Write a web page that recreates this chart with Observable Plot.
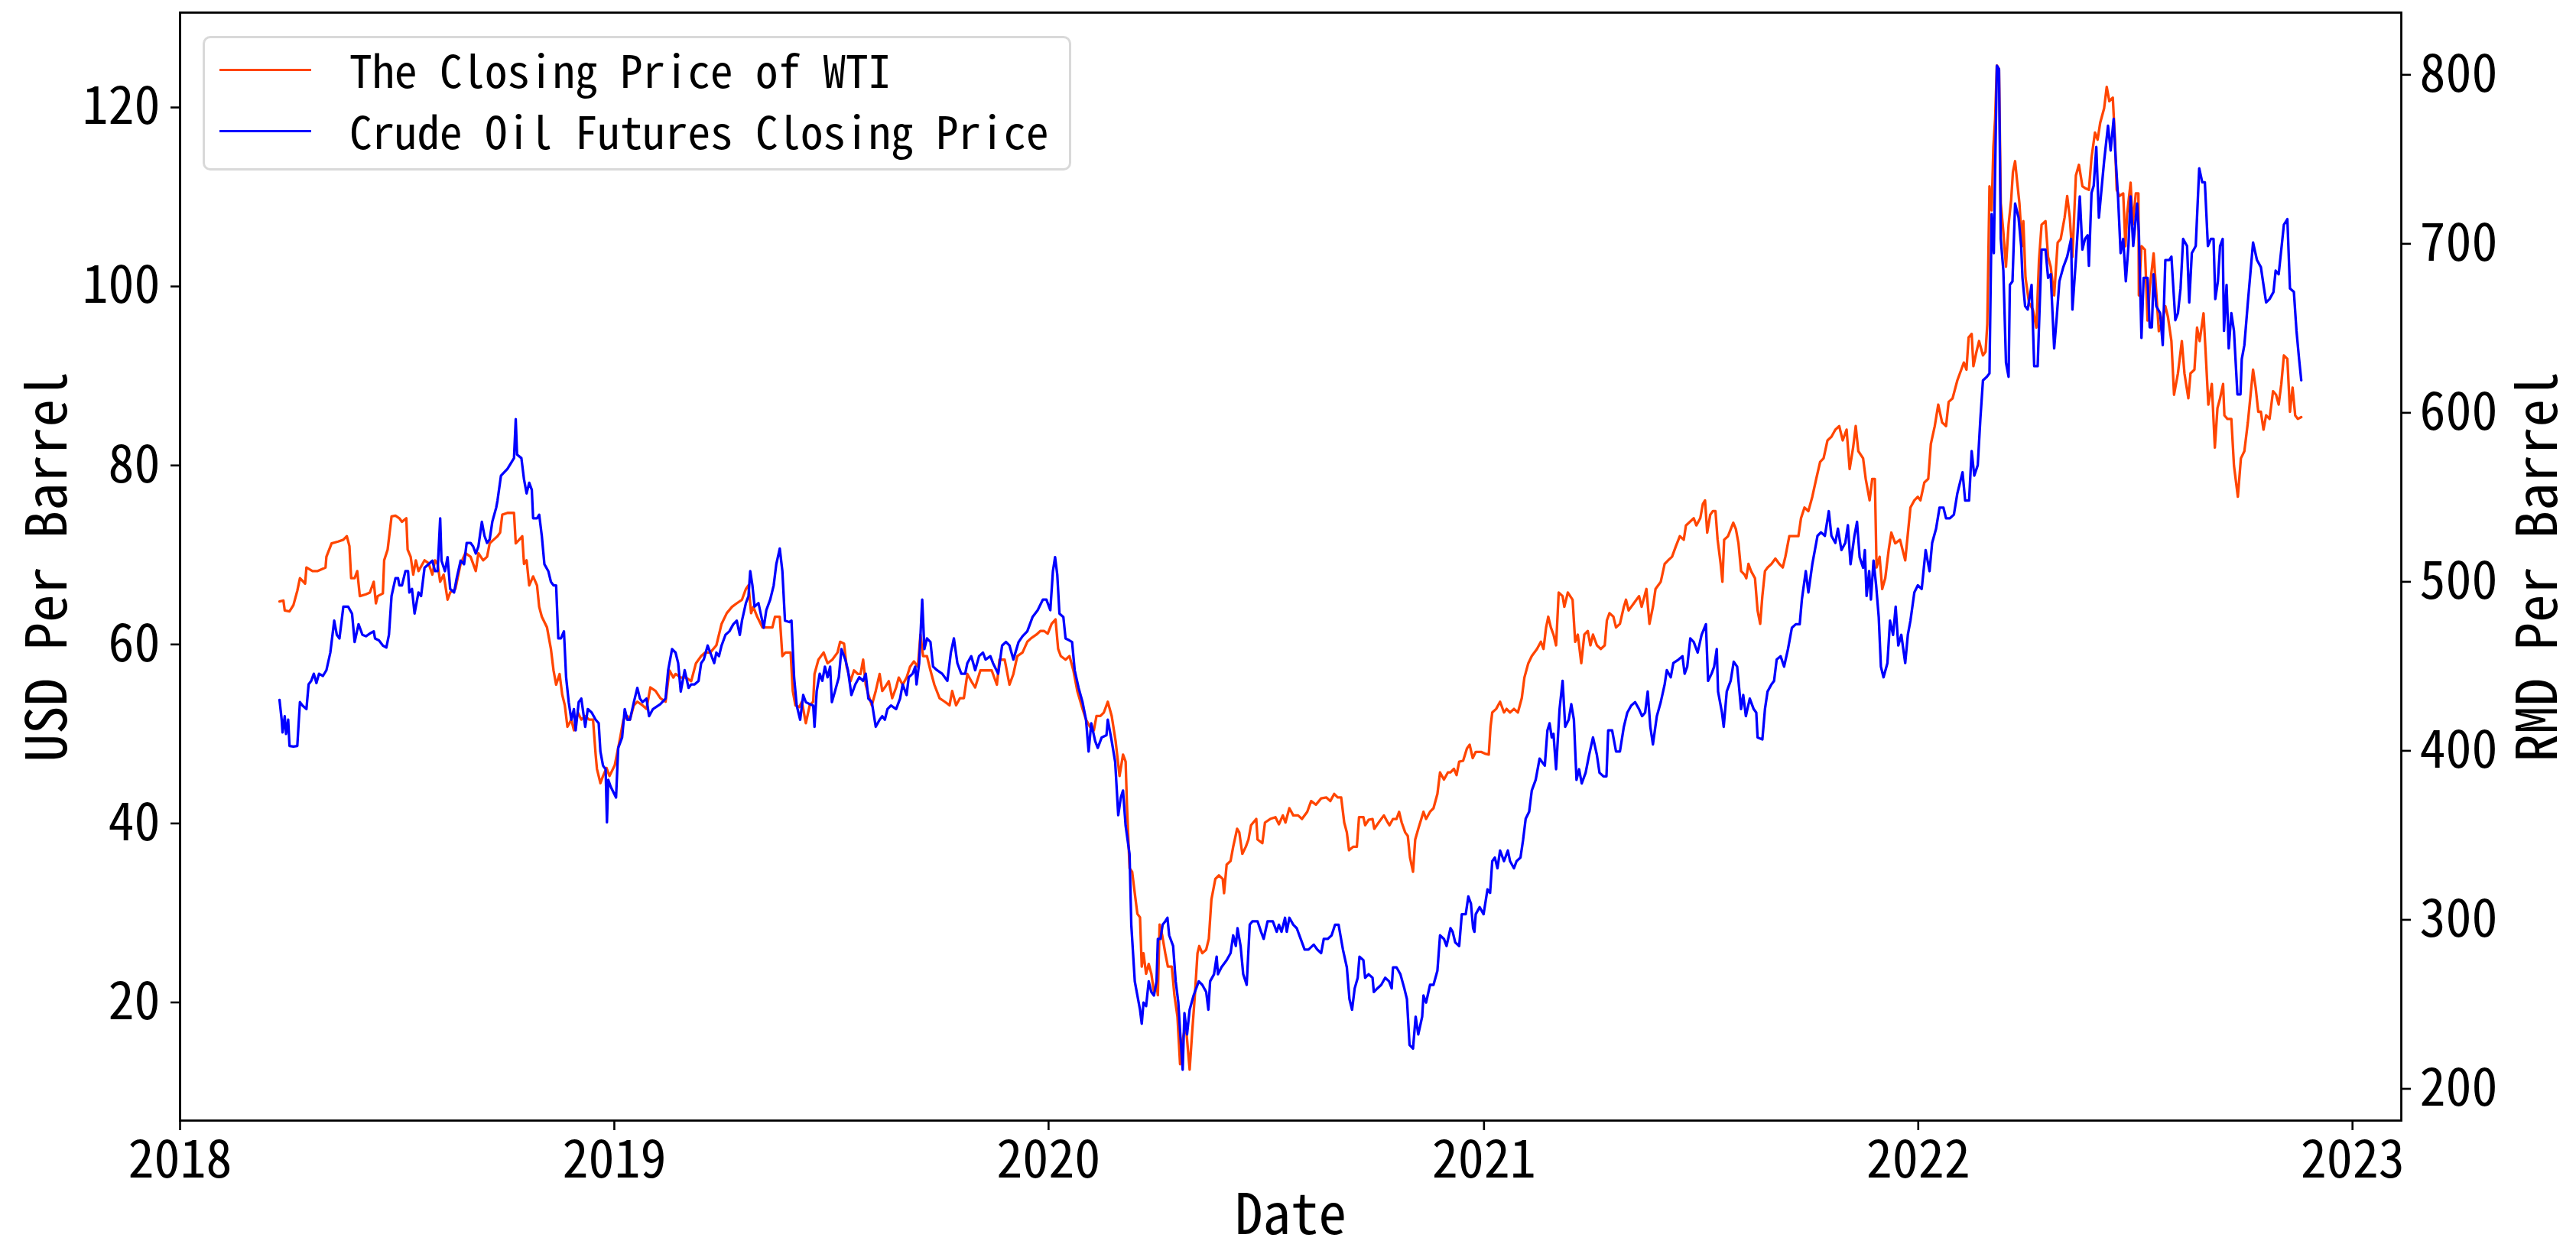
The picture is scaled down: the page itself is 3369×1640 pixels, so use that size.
<!DOCTYPE html>
<html>
<head>
<meta charset="utf-8">
<script src="https://cdn.jsdelivr.net/npm/d3@7"></script>
<script src="https://cdn.jsdelivr.net/npm/@observablehq/plot@0.6"></script>
<style>
  html, body { margin: 0; padding: 0; background: #fff; }
  #wrap { position: relative; width: 3369px; height: 1640px; overflow: hidden; }
  #legend { position: absolute; left: 265px; top: 47px; width: 1136px; height: 176px; box-sizing: border-box;
            border: 3px solid #d9d9d9; border-radius: 10px; background: rgba(255,255,255,0.8); }
  .sw { position: absolute; left: 19px; width: 120px; height: 3px; }
  .lt { position: absolute; left: 189px; font-size: 59px; line-height: 59px; white-space: pre; color: #000; }
  .f { font-family: "Noto Sans Mono CJK SC", "Noto Sans CJK SC", "DejaVu Sans Mono", monospace; }
</style>
</head>
<body>
<div id="wrap" class="f"></div>
<script>
// ---- data (decimal year, value) ----
const wti = [
[2018.229,64.8],[2018.238,64.9],[2018.241,63.8],[2018.252,63.7],[2018.261,64.4],[2018.270,66.0],[2018.276,67.4],[2018.288,66.8],[2018.291,68.6],[2018.305,68.2],[2018.317,68.2],[2018.335,68.6],[2018.337,69.8],[2018.349,71.3],[2018.364,71.5],[2018.376,71.7],[2018.384,72.1],[2018.390,71.0],[2018.394,67.4],[2018.402,67.4],[2018.408,68.2],[2018.414,65.4],[2018.428,65.6],[2018.437,65.8],[2018.446,67.0],[2018.451,64.6],[2018.455,65.4],[2018.467,65.7],[2018.470,69.4],[2018.478,70.6],[2018.487,74.3],[2018.496,74.4],[2018.505,74.1],[2018.511,73.7],[2018.521,74.1],[2018.524,70.6],[2018.531,69.8],[2018.537,67.8],[2018.543,69.4],[2018.549,68.2],[2018.563,69.4],[2018.572,69.1],[2018.581,67.8],[2018.587,69.4],[2018.593,69.0],[2018.599,67.0],[2018.607,67.8],[2018.616,65.0],[2018.622,65.8],[2018.634,66.2],[2018.646,69.0],[2018.657,70.2],[2018.669,69.8],[2018.681,68.2],[2018.687,70.2],[2018.698,69.4],[2018.707,69.8],[2018.713,71.3],[2018.722,71.7],
[2018.731,72.1],[2018.737,72.5],[2018.742,74.5],[2018.754,74.7],[2018.769,74.7],[2018.773,71.3],[2018.781,71.7],[2018.788,72.1],[2018.792,69.0],[2018.798,69.4],[2018.804,66.6],[2018.813,67.6],[2018.822,66.6],[2018.827,64.2],[2018.833,63.1],[2018.845,61.9],[2018.854,59.5],[2018.860,57.1],[2018.866,55.5],[2018.874,56.7],[2018.880,54.4],[2018.886,53.2],[2018.892,50.8],[2018.901,51.6],[2018.907,50.4],[2018.916,52.4],[2018.924,51.6],[2018.933,52.0],[2018.942,51.6],[2018.951,51.6],[2018.957,47.7],[2018.960,46.1],[2018.968,44.5],[2018.974,45.3],[2018.982,46.2],[2018.989,45.3],[2019.001,46.5],[2019.012,49.2],[2019.021,51.6],[2019.030,52.0],[2019.036,51.6],[2019.045,53.2],[2019.053,53.6],[2019.065,53.2],[2019.074,52.8],[2019.083,55.2],[2019.095,54.8],[2019.106,54.0],[2019.118,53.6],[2019.127,57.1],[2019.136,56.3],[2019.141,56.7],[2019.153,56.3],[2019.165,56.3],[2019.177,55.9],[2019.188,57.9],[2019.200,58.7],[2019.209,59.1],[2019.221,59.1],[2019.235,59.9],[2019.247,62.3],[2019.259,63.5],[2019.271,64.2],[2019.282,64.6],[2019.294,65.0],[2019.303,66.2],[2019.309,66.6],[2019.315,63.5],[2019.320,64.2],[2019.329,63.1],[2019.341,61.9],[2019.353,61.9],[2019.364,61.9],[2019.370,63.1],[2019.381,63.1],[2019.387,58.7],[2019.394,59.1],[2019.406,59.1],[2019.411,54.8],[2019.417,53.2],[2019.426,53.0],[2019.432,53.6],[2019.441,51.2],[2019.450,53.2],[2019.458,53.6],
[2019.461,56.7],[2019.470,58.3],[2019.482,59.1],[2019.491,57.9],[2019.502,58.3],[2019.514,59.1],[2019.520,60.3],[2019.529,60.1],[2019.535,57.5],[2019.544,55.9],[2019.552,57.1],[2019.561,56.7],[2019.567,56.7],[2019.573,58.3],[2019.579,55.5],[2019.585,54.4],[2019.593,53.2],[2019.602,54.8],[2019.611,56.7],[2019.617,54.8],[2019.623,55.2],[2019.632,55.9],[2019.640,54.0],[2019.649,55.2],[2019.655,56.3],[2019.664,55.5],[2019.673,56.3],[2019.681,57.5],[2019.690,58.1],[2019.699,57.5],[2019.705,61.1],[2019.711,58.7],[2019.720,58.7],[2019.728,57.1],[2019.737,55.5],[2019.749,54.0],[2019.761,53.6],[2019.772,53.2],[2019.778,54.8],[2019.787,53.2],[2019.796,54.0],[2019.805,54.0],[2019.813,56.7],[2019.822,55.9],[2019.831,55.2],[2019.843,57.1],[2019.855,57.1],[2019.869,57.1],[2019.881,55.5],[2019.887,58.3],[2019.899,58.3],[2019.910,55.5],[2019.919,56.7],[2019.928,58.7],[2019.940,59.1],[2019.951,60.3],[2019.960,60.7],[2019.972,61.1],[2019.981,61.5],[2019.990,61.5],[2019.998,61.2],[2020.007,62.3],[2020.016,62.8],[2020.022,59.5],[2020.028,58.7],[2020.039,58.3],[2020.048,58.7],[2020.057,57.1],[2020.066,54.8],[2020.078,52.8],[2020.086,51.6],[2020.095,50.8],[2020.104,50.4],[2020.110,52.0],[2020.119,52.0],[2020.127,52.4],[2020.136,53.6],[2020.145,52.0],[2020.154,49.2],[2020.163,45.3],[2020.171,47.7],[2020.177,46.9],[2020.180,42.1],[2020.186,35.0],
[2020.192,34.6],[2020.198,32.2],[2020.204,29.9],[2020.210,29.5],[2020.214,24.0],[2020.218,25.5],[2020.224,23.2],[2020.230,24.3],[2020.236,23.2],[2020.242,21.2],[2020.248,22.0],[2020.251,20.8],[2020.255,28.7],[2020.261,27.5],[2020.268,25.5],[2020.274,24.0],[2020.283,24.0],[2020.289,20.8],[2020.296,18.4],[2020.302,13.1],[2020.306,15.3],[2020.315,17.6],[2020.324,12.5],[2020.330,16.8],[2020.336,20.8],[2020.342,25.5],[2020.346,26.3],[2020.353,25.5],[2020.362,25.9],[2020.368,27.1],[2020.374,31.5],[2020.383,33.8],[2020.391,34.2],[2020.400,33.8],[2020.403,32.2],[2020.409,35.4],[2020.418,35.8],[2020.424,37.4],[2020.433,39.4],[2020.438,39.0],[2020.445,36.6],[2020.453,37.4],[2020.459,38.2],[2020.465,39.8],[2020.477,40.5],[2020.480,38.2],[2020.491,37.8],[2020.497,40.1],[2020.509,40.5],[2020.521,40.7],[2020.529,39.9],[2020.538,40.9],[2020.544,40.1],[2020.553,41.7],[2020.562,40.9],[2020.573,40.9],[2020.582,40.5],[2020.594,41.3],[2020.603,42.5],[2020.614,42.1],[2020.626,42.8],[2020.638,42.9],[2020.647,42.5],[2020.656,43.3],[2020.664,42.9],[2020.672,42.9],[2020.679,40.1],[2020.685,39.0],[2020.690,37.0],[2020.700,37.4],[2020.708,37.4],[2020.713,40.7],[2020.723,40.7],[2020.727,39.8],[2020.735,40.4],[2020.744,40.5],[2020.748,39.4],[2020.758,40.1],[2020.770,40.9],[2020.779,40.1],[2020.783,39.8],[2020.791,40.5],[2020.799,40.5],[2020.805,41.3],[2020.811,40.1],[2020.819,39.0],[2020.825,38.6],[2020.830,36.2],[2020.837,34.6],[2020.842,38.2],[2020.849,39.4],[2020.861,41.3],[2020.867,40.5],[2020.876,41.3],[2020.884,41.7],[2020.893,43.3],[2020.899,45.7],[2020.908,44.9],[2020.917,45.7],
[2020.923,45.7],[2020.931,46.1],[2020.937,45.4],[2020.943,46.9],[2020.952,47.0],[2020.961,48.4],[2020.967,48.8],[2020.974,47.3],[2020.981,48.0],[2020.993,48.0],[2021.002,47.8],[2021.011,47.7],[2021.015,50.8],[2021.019,52.4],[2021.028,52.8],[2021.037,53.6],[2021.046,52.4],[2021.052,52.8],[2021.060,52.4],[2021.069,52.8],[2021.078,52.4],[2021.087,54.0],[2021.093,56.3],[2021.102,57.9],[2021.110,58.7],[2021.122,59.5],[2021.131,60.3],[2021.137,59.5],[2021.143,61.9],[2021.148,63.1],[2021.154,61.9],[2021.160,61.1],[2021.166,59.9],[2021.172,65.8],[2021.181,65.4],[2021.185,64.2],[2021.193,65.8],[2021.204,65.0],[2021.210,60.3],[2021.216,61.1],[2021.224,57.9],[2021.231,61.1],[2021.239,61.5],[2021.245,59.9],[2021.251,61.1],[2021.260,59.9],[2021.269,59.5],[2021.278,59.9],[2021.283,62.7],[2021.289,63.5],[2021.298,63.1],[2021.304,61.9],[2021.313,62.3],[2021.322,64.2],[2021.327,65.0],[2021.333,63.8],[2021.345,64.6],[2021.357,65.4],[2021.363,64.2],[2021.374,66.2],[2021.381,62.3],[2021.389,64.2],[2021.395,66.2],[2021.407,67.0],[2021.416,69.0],[2021.424,69.4],[2021.433,69.8],[2021.442,71.0],[2021.451,72.1],[2021.460,71.7],[2021.465,73.3],[2021.474,73.7],[2021.483,74.1],[2021.489,73.3],[2021.498,74.1],[2021.504,75.7],[2021.509,76.1],[2021.514,72.5],[2021.521,74.5],[2021.527,74.9],[2021.533,74.9],[2021.538,71.7],[2021.545,69.0],[2021.549,67.0],[2021.553,71.7],[2021.562,72.1],[2021.574,73.6],[2021.580,72.9],[2021.586,71.3],[2021.592,68.2],[2021.600,67.8],[2021.604,67.4],[2021.609,69.0],[2021.615,68.2],[2021.624,67.4],[2021.630,63.8],[2021.636,62.3],[2021.641,65.4],[2021.647,68.2],
[2021.653,68.6],[2021.662,69.0],[2021.671,69.6],[2021.680,69.0],[2021.688,68.6],[2021.694,69.8],[2021.703,72.1],[2021.712,72.1],[2021.724,72.1],[2021.730,74.1],[2021.738,75.3],[2021.747,74.9],[2021.756,76.5],[2021.765,78.5],[2021.774,80.4],[2021.782,80.8],[2021.791,82.8],[2021.800,83.2],[2021.809,84.0],[2021.818,84.4],[2021.826,82.8],[2021.835,84.0],[2021.842,79.6],[2021.850,82.0],[2021.856,84.4],[2021.862,81.6],[2021.873,80.8],[2021.879,78.5],[2021.888,76.1],[2021.894,78.5],[2021.900,78.5],[2021.904,68.6],[2021.911,69.8],[2021.917,66.2],[2021.924,67.4],[2021.932,70.6],[2021.938,72.5],[2021.947,71.3],[2021.958,71.7],[2021.970,69.4],[2021.982,75.3],[2021.991,76.1],[2021.999,76.5],[2022.005,76.1],[2022.014,78.1],[2022.023,78.5],[2022.029,82.4],[2022.038,84.4],[2022.046,86.8],[2022.055,84.8],[2022.064,84.4],[2022.070,87.1],[2022.079,87.5],[2022.090,89.5],[2022.099,90.7],[2022.105,91.5],[2022.111,90.7],[2022.116,94.3],[2022.123,94.7],[2022.127,91.1],[2022.134,92.7],[2022.140,93.9],[2022.149,92.3],[2022.155,92.7],[2022.159,95.8],[2022.164,111.2],[2022.169,108.5],[2022.173,115.6],[2022.177,118.7],[2022.181,124.7],[2022.186,124.3],[2022.190,109.3],[2022.196,106.1],[2022.202,102.2],[2022.208,106.9],[2022.214,109.7],[2022.218,112.8],[2022.223,114.0],[2022.228,111.6],[2022.233,109.3],[2022.239,104.5],[2022.242,107.3],[2022.247,101.0],[2022.255,98.2],[2022.264,97.4],[2022.272,95.4],[2022.278,102.9],[2022.284,106.9],[2022.293,107.3],[2022.299,103.3],[2022.305,102.2],[2022.313,99.0],[2022.321,104.9],[2022.328,105.3],[2022.337,107.7],[2022.343,110.1],[2022.349,107.7],[2022.355,103.3],[2022.363,112.4],[2022.370,113.6],[2022.378,111.2],
[2022.384,111.0],[2022.393,110.8],[2022.399,114.4],[2022.407,117.2],[2022.413,116.4],[2022.419,118.3],[2022.428,119.9],[2022.434,122.3],[2022.440,120.7],[2022.448,121.1],[2022.453,116.4],[2022.457,110.8],[2022.463,110.1],[2022.472,110.4],[2022.477,104.5],[2022.481,108.1],[2022.489,111.6],[2022.494,106.9],[2022.501,110.4],[2022.507,110.4],[2022.508,99.0],[2022.514,104.5],[2022.522,104.1],[2022.528,96.2],[2022.533,99.8],[2022.542,103.7],[2022.548,99.4],[2022.554,95.0],[2022.560,95.8],[2022.569,97.8],[2022.575,96.6],[2022.583,93.9],[2022.589,87.9],[2022.598,90.3],[2022.607,93.9],[2022.613,90.3],[2022.622,87.5],[2022.627,90.3],[2022.636,90.7],[2022.642,95.4],[2022.648,93.9],[2022.657,97.0],[2022.663,91.5],[2022.668,86.8],[2022.676,89.1],[2022.683,82.0],[2022.689,86.4],[2022.695,87.5],[2022.702,89.1],[2022.705,85.6],[2022.712,85.2],[2022.721,85.2],[2022.727,80.0],[2022.736,76.5],[2022.743,80.8],[2022.751,81.6],[2022.759,84.8],[2022.771,90.7],[2022.777,88.7],[2022.783,86.0],[2022.789,86.0],[2022.795,84.0],[2022.801,85.6],[2022.809,85.2],[2022.817,88.3],[2022.824,87.9],[2022.830,86.8],[2022.836,89.1],[2022.842,92.3],[2022.850,91.9],[2022.856,86.0],[2022.862,88.7],[2022.868,85.6],[2022.874,85.2],[2022.882,85.4]
];

const sc = [
[2018.229,430.1],[2018.234,418.4],[2018.236,410.9],[2018.241,420.5],[2018.244,410.0],[2018.249,418.4],[2018.252,402.9],[2018.261,402.5],[2018.270,402.9],[2018.276,428.8],[2018.282,426.8],[2018.291,424.7],[2018.296,439.3],[2018.302,441.4],[2018.308,445.6],[2018.314,440.1],[2018.320,445.6],[2018.329,444.3],[2018.337,447.7],[2018.346,458.1],[2018.355,477.0],[2018.361,468.6],[2018.367,466.5],[2018.376,485.3],[2018.387,485.3],[2018.396,481.2],[2018.402,464.4],[2018.411,474.9],[2018.420,468.6],[2018.428,467.8],[2018.437,469.4],[2018.446,470.7],[2018.449,466.5],[2018.458,465.3],[2018.467,462.3],[2018.475,461.1],[2018.481,468.6],[2018.487,491.6],[2018.496,502.1],[2018.502,502.1],[2018.505,497.9],[2018.511,497.9],[2018.519,506.3],[2018.525,506.3],[2018.528,493.7],[2018.534,495.8],[2018.540,481.2],[2018.549,493.7],[2018.555,491.6],[2018.563,508.3],[2018.572,510.4],[2018.581,512.5],[2018.587,506.3],[2018.593,506.3],[2018.599,537.6],[2018.602,512.5],[2018.610,506.3],[2018.616,514.6],[2018.622,495.8],[2018.631,493.7],[2018.637,502.1],[2018.646,512.5],[2018.654,510.4],[2018.660,523.0],[2018.669,523.0],[2018.675,520.9],[2018.681,516.7],[2018.687,520.9],[2018.695,535.5],[2018.701,527.2],[2018.707,523.0],[2018.713,525.1],[2018.719,535.5],[2018.728,543.9],
[2018.731,548.1],[2018.739,562.8],[2018.754,566.9],[2018.769,573.2],[2018.773,596.2],[2018.776,575.3],[2018.786,573.2],[2018.792,560.7],[2018.798,552.3],[2018.804,558.6],[2018.810,554.4],[2018.813,537.6],[2018.822,537.6],[2018.827,539.7],[2018.833,527.2],[2018.839,510.4],[2018.848,506.3],[2018.854,500.0],[2018.860,497.9],[2018.866,497.9],[2018.871,466.5],[2018.877,466.5],[2018.884,470.7],[2018.889,443.5],[2018.895,428.8],[2018.901,418.4],[2018.907,424.7],[2018.911,412.1],[2018.918,428.8],[2018.924,430.9],[2018.933,414.2],[2018.939,424.7],[2018.948,422.6],[2018.957,418.4],[2018.964,416.3],[2018.968,399.6],[2018.974,391.2],[2018.980,389.1],[2018.983,357.7],[2018.986,382.8],[2018.992,378.6],[2019.004,372.4],[2019.009,401.7],[2019.018,407.9],[2019.024,424.7],[2019.030,418.4],[2019.036,418.4],[2019.045,428.8],[2019.053,437.2],[2019.059,430.9],[2019.065,428.8],[2019.074,430.9],[2019.080,420.5],[2019.089,424.7],[2019.106,427.6],[2019.118,430.9],[2019.124,447.7],[2019.133,460.2],[2019.141,458.1],[2019.147,451.9],[2019.153,435.1],[2019.162,447.7],[2019.171,437.2],[2019.177,439.3],[2019.185,439.3],[2019.194,441.4],[2019.200,451.9],[2019.206,454.0],[2019.215,462.3],[2019.221,458.1],[2019.230,451.9],[2019.235,458.1],[2019.241,456.0],[2019.247,462.3],[2019.256,468.6],[2019.265,470.7],[2019.274,474.9],[2019.282,477.0],[2019.289,468.6],[2019.294,477.0],[2019.303,487.4],[2019.309,491.6],[2019.313,506.3],[2019.318,497.9],[2019.323,485.3],[2019.332,487.4],[2019.344,472.8],[2019.350,483.2],[2019.359,489.5],[2019.367,497.9],[2019.373,510.4],[2019.381,519.7],[2019.387,506.3],[2019.393,477.0],[2019.403,476.2],[2019.408,477.0],[2019.414,443.5],[2019.420,426.8],[2019.428,418.4],[2019.435,433.0],[2019.441,428.8],[2019.450,427.6],[2019.458,426.8],[2019.461,414.2],
[2019.466,435.1],[2019.473,445.6],[2019.479,441.4],[2019.485,449.8],[2019.491,443.5],[2019.497,449.8],[2019.501,428.8],[2019.508,435.1],[2019.517,443.5],[2019.523,460.2],[2019.532,454.0],[2019.538,447.7],[2019.546,433.0],[2019.555,439.3],[2019.564,443.5],[2019.573,441.4],[2019.579,445.6],[2019.585,430.9],[2019.593,428.8],[2019.602,414.2],[2019.611,418.4],[2019.617,420.5],[2019.623,418.4],[2019.629,424.7],[2019.637,426.8],[2019.649,424.7],[2019.658,430.9],[2019.664,439.3],[2019.673,433.0],[2019.678,443.5],[2019.687,445.6],[2019.693,449.8],[2019.696,439.3],[2019.702,451.9],[2019.709,489.5],[2019.714,460.2],[2019.720,466.5],[2019.728,464.4],[2019.734,449.8],[2019.743,447.7],[2019.755,445.6],[2019.767,441.4],[2019.775,458.1],[2019.782,466.5],[2019.790,451.9],[2019.799,445.6],[2019.808,445.6],[2019.813,451.9],[2019.822,456.0],[2019.831,447.7],[2019.840,456.0],[2019.849,458.1],[2019.855,454.0],[2019.866,456.0],[2019.872,451.9],[2019.884,445.6],[2019.893,462.3],[2019.902,464.4],[2019.910,462.3],[2019.919,454.0],[2019.931,464.4],[2019.940,467.8],[2019.951,470.7],[2019.963,479.1],[2019.975,483.2],[2019.987,489.5],[2019.995,489.5],[2020.004,483.2],[2020.010,506.3],[2020.015,514.6],[2020.020,504.2],[2020.025,481.2],[2020.034,479.1],[2020.039,466.5],[2020.048,465.3],[2020.054,464.4],[2020.060,447.7],[2020.069,437.2],[2020.078,428.8],[2020.086,418.4],[2020.092,399.6],[2020.098,416.3],[2020.107,405.8],[2020.113,401.7],[2020.122,407.9],[2020.133,409.2],[2020.136,418.4],[2020.145,405.8],[2020.153,393.3],[2020.160,361.9],[2020.166,372.4],[2020.171,376.5],[2020.177,355.6],[2020.186,338.9],[2020.190,297.0],
[2020.198,263.6],[2020.204,255.2],[2020.210,246.8],[2020.214,238.5],[2020.218,251.0],[2020.224,248.9],[2020.230,263.6],[2020.236,257.3],[2020.242,255.2],[2020.248,263.6],[2020.251,288.7],[2020.257,288.7],[2020.262,297.1],[2020.268,299.1],[2020.273,301.2],[2020.277,290.8],[2020.286,284.5],[2020.292,263.6],[2020.298,251.0],[2020.302,234.3],[2020.308,211.3],[2020.312,244.8],[2020.318,232.2],[2020.324,246.8],[2020.333,255.2],[2020.345,263.6],[2020.353,261.5],[2020.362,257.3],[2020.367,246.8],[2020.371,263.6],[2020.380,267.8],[2020.386,278.2],[2020.389,267.8],[2020.397,271.9],[2020.409,276.1],[2020.418,280.3],[2020.424,290.8],[2020.430,284.5],[2020.434,295.0],[2020.441,284.5],[2020.447,267.8],[2020.455,261.5],[2020.462,297.1],[2020.468,299.1],[2020.480,299.1],[2020.488,292.9],[2020.494,288.7],[2020.503,299.1],[2020.515,299.1],[2020.524,292.9],[2020.529,297.1],[2020.535,292.9],[2020.543,301.2],[2020.547,292.9],[2020.553,301.2],[2020.562,297.1],[2020.570,295.0],[2020.579,288.7],[2020.588,282.4],[2020.597,282.4],[2020.609,285.3],[2020.617,282.4],[2020.626,280.3],[2020.632,288.7],[2020.641,288.7],[2020.650,290.8],[2020.658,297.1],[2020.666,297.1],[2020.676,282.4],[2020.685,271.9],[2020.691,253.1],[2020.697,246.8],[2020.703,259.4],[2020.710,265.7],[2020.714,278.2],[2020.723,276.1],[2020.727,265.7],[2020.735,267.8],[2020.744,265.7],[2020.747,257.3],[2020.755,259.4],[2020.764,261.5],[2020.773,265.7],[2020.782,263.6],[2020.788,259.4],[2020.791,271.9],[2020.799,271.9],[2020.808,267.8],[2020.817,259.4],[2020.823,253.1],[2020.829,225.9],[2020.837,223.8],[2020.843,242.7],[2020.849,232.2],[2020.858,242.7],[2020.861,255.2],[2020.867,251.0],[2020.876,261.5],[2020.884,261.5],[2020.893,269.9],[2020.899,290.8],[2020.908,288.7],[2020.914,284.5],
[2020.923,295.0],[2020.928,292.9],[2020.934,286.6],[2020.943,284.5],[2020.949,303.3],[2020.958,303.3],[2020.964,313.8],[2020.970,309.6],[2020.975,295.0],[2020.978,292.9],[2020.981,303.3],[2020.990,307.5],[2020.999,303.3],[2021.008,318.0],[2021.014,315.9],[2021.019,334.7],[2021.025,336.8],[2021.031,330.5],[2021.037,341.0],[2021.046,334.7],[2021.055,341.0],[2021.060,334.7],[2021.069,330.5],[2021.075,334.7],[2021.084,336.8],[2021.090,347.3],[2021.096,359.8],[2021.104,364.0],[2021.110,376.5],[2021.119,382.8],[2021.128,395.4],[2021.134,393.3],[2021.140,391.2],[2021.146,412.1],[2021.151,416.3],[2021.156,407.9],[2021.160,410.0],[2021.166,389.1],[2021.174,424.7],[2021.181,441.4],[2021.187,414.2],[2021.195,418.4],[2021.201,427.6],[2021.207,418.4],[2021.213,382.8],[2021.219,389.1],[2021.225,380.7],[2021.234,387.0],[2021.242,397.5],[2021.251,407.9],[2021.260,397.5],[2021.266,387.0],[2021.275,384.9],[2021.282,384.9],[2021.286,412.1],[2021.295,412.1],[2021.304,399.6],[2021.313,399.6],[2021.322,414.2],[2021.330,422.6],[2021.339,426.8],[2021.348,428.8],[2021.357,424.7],[2021.364,420.5],[2021.371,422.6],[2021.377,435.1],[2021.383,414.2],[2021.389,403.8],[2021.398,420.5],[2021.407,428.8],[2021.416,439.3],[2021.421,447.7],[2021.430,443.5],[2021.436,451.9],[2021.448,454.0],[2021.457,456.0],[2021.462,445.6],[2021.468,449.8],[2021.475,466.5],[2021.483,464.4],[2021.492,458.1],[2021.501,468.6],[2021.511,474.9],[2021.516,441.4],[2021.524,445.6],[2021.530,449.8],[2021.536,460.2],[2021.539,435.1],[2021.548,422.6],[2021.552,414.2],[2021.559,435.1],[2021.568,441.4],[2021.575,452.7],[2021.583,449.8],[2021.592,424.7],[2021.597,433.0],[2021.603,420.5],[2021.612,430.9],[2021.621,424.7],[2021.627,422.6],[2021.630,407.9],[2021.641,406.7],[2021.647,424.7],
[2021.653,435.1],[2021.662,439.3],[2021.668,441.4],[2021.674,454.0],[2021.683,456.0],[2021.691,449.8],[2021.700,460.2],[2021.709,472.8],[2021.718,474.9],[2021.727,474.9],[2021.732,489.5],[2021.741,506.3],[2021.747,493.7],[2021.756,510.4],[2021.768,527.2],[2021.776,529.3],[2021.785,527.2],[2021.794,541.8],[2021.800,527.2],[2021.809,523.0],[2021.815,531.4],[2021.823,518.8],[2021.832,523.0],[2021.838,533.5],[2021.844,510.4],[2021.853,527.2],[2021.859,535.5],[2021.865,514.6],[2021.873,508.3],[2021.877,518.8],[2021.881,491.6],[2021.887,506.3],[2021.891,489.5],[2021.897,512.5],[2021.903,497.9],[2021.909,479.1],[2021.914,449.8],[2021.920,443.5],[2021.929,451.9],[2021.935,477.0],[2021.942,468.6],[2021.948,485.3],[2021.954,462.3],[2021.961,468.6],[2021.970,451.9],[2021.976,468.6],[2021.982,477.0],[2021.991,493.7],[2021.999,497.9],[2022.008,495.8],[2022.017,518.8],[2022.026,506.3],[2022.032,523.0],[2022.041,531.4],[2022.049,543.9],[2022.058,543.9],[2022.064,537.6],[2022.073,537.6],[2022.082,539.7],[2022.090,552.3],[2022.102,564.8],[2022.108,548.1],[2022.117,548.1],[2022.123,577.4],[2022.129,562.8],[2022.137,569.0],[2022.143,596.2],[2022.149,619.2],[2022.158,621.3],[2022.164,623.4],[2022.169,717.6],[2022.174,694.5],[2022.181,805.4],[2022.186,803.3],[2022.190,702.9],[2022.196,684.1],[2022.202,629.7],[2022.208,621.3],[2022.211,675.7],[2022.217,677.8],[2022.223,723.8],[2022.231,715.5],[2022.237,698.7],[2022.240,679.9],[2022.246,663.2],[2022.252,661.1],[2022.261,675.7],[2022.267,627.6],[2022.275,627.6],[2022.284,696.6],[2022.293,696.6],[2022.299,679.9],[2022.305,682.0],[2022.313,638.1],[2022.319,656.9],[2022.325,677.8],[2022.334,686.2],[2022.343,692.4],[2022.352,702.9],[2022.355,661.1],[2022.363,690.4],[2022.372,728.0],[2022.378,696.6],
[2022.384,702.9],[2022.390,705.0],[2022.393,687.0],[2022.399,730.1],[2022.404,734.3],[2022.410,757.3],[2022.416,715.5],[2022.422,732.2],[2022.428,748.9],[2022.437,769.9],[2022.443,755.2],[2022.450,774.0],[2022.454,753.1],[2022.460,728.0],[2022.466,694.5],[2022.472,702.9],[2022.478,677.8],[2022.484,698.7],[2022.489,728.0],[2022.495,698.7],[2022.504,723.8],[2022.508,707.1],[2022.514,644.3],[2022.519,679.9],[2022.528,679.9],[2022.533,650.6],[2022.538,650.6],[2022.542,682.0],[2022.548,663.2],[2022.557,659.0],[2022.563,640.1],[2022.569,690.4],[2022.578,690.4],[2022.583,692.4],[2022.592,654.8],[2022.598,659.0],[2022.604,673.6],[2022.610,702.9],[2022.619,698.7],[2022.624,665.3],[2022.630,694.5],[2022.639,698.7],[2022.647,744.7],[2022.654,736.4],[2022.660,736.4],[2022.667,698.7],[2022.674,702.9],[2022.680,702.9],[2022.684,667.3],[2022.690,677.8],[2022.695,698.7],[2022.701,702.9],[2022.704,648.5],[2022.710,675.7],[2022.715,638.1],[2022.721,659.0],[2022.727,648.5],[2022.735,610.9],[2022.742,610.9],[2022.745,631.8],[2022.751,640.1],[2022.759,665.3],[2022.771,700.8],[2022.780,690.4],[2022.789,686.2],[2022.795,675.7],[2022.801,665.3],[2022.809,667.3],[2022.818,671.5],[2022.823,684.1],[2022.830,682.0],[2022.836,696.6],[2022.842,711.3],[2022.850,714.6],[2022.856,673.6],[2022.865,671.5],[2022.871,648.5],[2022.877,631.8],[2022.882,619.2]
];

const seriesNames = ["The Closing Price of WTI", "Crude Oil Futures Closing Price"];
const seriesColors = ["#ff4500", "#0000ff"];
const usdTicks = [20, 40, 60, 80, 100, 120];
const rmbTicks = [200, 300, 400, 500, 600, 700, 800];
const yearTicks = [2018, 2019, 2020, 2021, 2022, 2023];
const labels = { x: "Date", yLeft: "USD Per Barrel", yRight: "RMD Per Barrel" };

// ---- scales ----
const usdDomain = [6.8, 130.6];
const rmbDomain = [181.2, 836.8];
const xDomain = [new Date(Date.UTC(2018, 0, 1)), new Date(Date.UTC(2023, 1, 11))];

const toDate = (y) => {
  const yr = Math.floor(y);
  const a = Date.UTC(yr, 0, 1), b = Date.UTC(yr + 1, 0, 1);
  return new Date(a + (y - yr) * (b - a));
};
const rmbToUsd = d3.scaleLinear().domain(rmbDomain).range(usdDomain);

const wtiData = wti.map(([t, v]) => ({ date: toDate(t), value: v }));
const scData = sc.map(([t, v]) => ({ date: toDate(t), value: rmbToUsd(v) }));

const FONT = '"Noto Sans Mono CJK SC", "Noto Sans CJK SC", "DejaVu Sans Mono", monospace';

const chart = Plot.plot({
  width: 3369,
  height: 1640,
  marginLeft: 235,
  marginRight: 229,
  marginTop: 16,
  marginBottom: 175,
  style: { fontFamily: FONT, fontSize: "68px", color: "#000", background: "#fff", overflow: "visible" },
  x: { type: "utc", domain: xDomain, axis: null },
  y: { domain: usdDomain, axis: null },
  marks: [
    Plot.line(wtiData, { x: "date", y: "value", stroke: seriesColors[0], strokeWidth: 3.3, strokeLinejoin: "round" }),
    Plot.line(scData, { x: "date", y: "value", stroke: seriesColors[1], strokeWidth: 3.3, strokeLinejoin: "round" }),
    Plot.axisX(yearTicks.map(y => new Date(Date.UTC(y, 0, 1))), {
      tickFormat: d3.utcFormat("%Y"), tickSize: 13, tickPadding: 13, strokeWidth: 2.6, fontSize: 68, label: null
    }),
    Plot.axisY(usdTicks, {
      anchor: "left", tickSize: 12, tickPadding: 14, strokeWidth: 2.6, fontSize: 68, label: null
    }),
    Plot.axisY(rmbTicks.map(v => rmbToUsd(v)), {
      anchor: "right", tickSize: 12, tickPadding: 12, strokeWidth: 2.6, fontSize: 68, label: null,
      tickFormat: (v) => String(Math.round(rmbToUsd.invert(v)))
    }),
    Plot.frame({ stroke: "#000", strokeWidth: 2.8 }),
    Plot.text([labels.yLeft], { frameAnchor: "left", dx: -172, rotate: -90, fontSize: 73, textAnchor: "middle", lineAnchor: "middle", text: d => d }),
    Plot.text([labels.yRight], { frameAnchor: "right", dx: 180, rotate: -90, fontSize: 73, textAnchor: "middle", lineAnchor: "middle", text: d => d }),
    Plot.text([labels.x], { frameAnchor: "bottom", dy: 125, fontSize: 73, textAnchor: "middle", lineAnchor: "middle", text: d => d })
  ]
});

const wrap = document.getElementById("wrap");
wrap.appendChild(chart);

// legend (inside the axes, upper left)
const legend = document.createElement("div");
legend.id = "legend";
seriesNames.forEach((name, i) => {
  const cy = 41 + i * 80;
  const sw = document.createElement("div");
  sw.className = "sw";
  sw.style.top = (cy - 1.5) + "px";
  sw.style.background = seriesColors[i];
  const tx = document.createElement("div");
  tx.className = "lt f";
  tx.style.top = (cy - 31) + "px";
  tx.textContent = name;
  legend.appendChild(sw);
  legend.appendChild(tx);
});
wrap.appendChild(legend);
</script>
</body>
</html>
